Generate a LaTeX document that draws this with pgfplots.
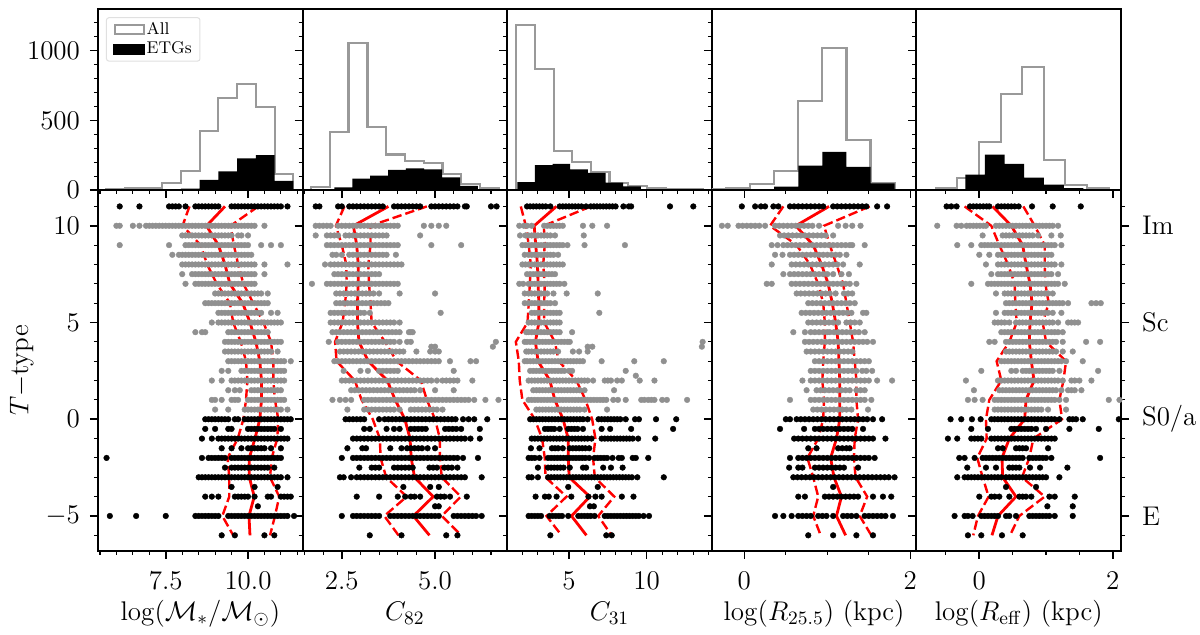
\RequirePackage{fix-cm}
\documentclass[border=0pt]{standalone}
\usepackage{pgfplots}
\usepackage{pgfplotstable}
\pgfplotsset{compat=1.18}
\definecolor{gd}{HTML}{909090}
\definecolor{gh}{HTML}{999999}
\newcommand\tfs{\fontsize{13.5}{15}\selectfont}
\pgfplotsset{
 panel/.style={scale only axis,width=102.3pt,anchor=south west,
  axis line style={line width=1pt},tick align=outside,
  major tick length=4pt,minor tick length=2pt,
  major tick style={line width=.8pt,black},minor tick style={line width=.55pt,black},
  tick label style={font=\tfs},label style={font=\tfs},
  xtick pos=bottom,ytick pos=left,
  xticklabel style={yshift=-3pt},
  xlabel style={at={(axis description cs:0.5,-0.192)},anchor=base}},
 hist/.style={panel,height=90.35pt,ymin=0,ymax=1297,ytick={0,500,1000},
  minor ytick={100,200,300,400,600,700,800,900,1100,1200},yticklabels={},xticklabels={}},
 low/.style={panel,height=180.5pt,ymin=-6.81,ymax=11.85,ytick={-5,0,5,10},
  minor ytick={-6,-4,-3,-2,-1,1,2,3,4,6,7,8,9,11},yticklabels={}},
 allh/.style={const plot,draw=gh,line width=1.1pt,fill=none,forget plot},
 etgh/.style={const plot,draw=none,fill=black,forget plot},
 gdot/.style={only marks,color=gd,mark=*,mark size=1.42pt,mark options={solid,draw=gd,fill=gd,line width=.2pt}},
 bdot/.style={only marks,color=black,mark=*,mark size=1.42pt,mark options={solid,draw=black,fill=black,line width=.2pt}},
}
\newcommand\G[2]{\addplot[gdot] table[header=false,x index=0,y expr=#1,row sep=crcr]{#2\\};}
\newcommand\B[2]{\addplot[bdot] table[header=false,x index=0,y expr=#1,row sep=crcr]{#2\\};}
\newcommand\Curves[1]{%
 \addplot[white,line width=2.6pt,dash pattern=on 4.7pt off 2pt] table[x=lo,y=T]{#1};
 \addplot[white,line width=2.6pt,dash pattern=on 4.7pt off 2pt] table[x=hi,y=T]{#1};
 \addplot[white,line width=2.9pt] table[x=med,y=T]{#1};
 \addplot[red,line width=1.2pt,dash pattern=on 4.7pt off 2pt] table[x=lo,y=T]{#1};
 \addplot[red,line width=1.2pt,dash pattern=on 4.7pt off 2pt] table[x=hi,y=T]{#1};
 \addplot[red,line width=1.4pt] table[x=med,y=T]{#1};}
\pgfplotstableread{
T med lo hi
11 9.30 8.22 10.31
10 8.74 8.01 9.47
9 9.10 8.56 9.57
8 9.30 8.76 9.70
7 9.45 9.05 9.86
6 9.84 9.45 10.16
5 10.06 9.55 10.47
4 10.24 9.78 10.70
3 10.36 9.94 10.77
2 10.41 9.98 10.77
1 10.41 9.94 10.82
0 10.36 9.86 10.92
-1 10.21 9.69 10.89
-2 10.04 9.38 10.72
-3 10.04 9.43 10.67
-4 10.19 9.43 10.95
-5 10.03 9.22 10.82
-6 10.06 9.55 10.67
}\tabA
\pgfplotstableread{
T med lo hi
11 3.75 2.57 4.78
10 2.81 2.34 3.27
9 2.90 2.50 3.27
8 2.94 2.62 3.21
7 2.94 2.63 3.23
6 2.92 2.59 3.27
5 2.92 2.52 3.30
4 2.96 2.32 3.66
3 3.21 2.36 3.97
2 3.72 2.85 4.62
1 3.93 3.03 4.78
0 4.19 3.33 5.00
-1 4.33 3.52 5.13
-2 4.36 3.54 5.13
-3 4.45 3.69 5.18
-4 4.95 4.24 5.69
-5 4.42 3.64 5.18
-6 4.85 4.02 5.70
}\tabB
\pgfplotstableread{
T med lo hi
11 4.19 1.90 6.40
10 2.76 2.22 3.38
9 2.86 2.41 3.44
8 2.97 2.54 3.34
7 3.01 2.48 3.44
6 3.06 2.41 3.40
5 3.06 2.33 3.40
4 2.84 1.58 4.09
3 3.01 1.77 4.34
2 3.77 1.83 5.48
1 4.09 2.00 6.06
0 4.62 2.80 6.49
-1 4.95 3.27 6.70
-2 4.95 3.44 6.55
-3 5.01 3.49 6.66
-4 6.34 4.84 7.91
-5 5.16 3.55 6.88
-6 6.12 4.52 7.74
}\tabC
\pgfplotstableread{
T med lo hi
11 1.02 0.47 1.51
10 0.62 0.31 0.96
9 0.83 0.63 1.03
8 0.93 0.79 1.11
7 1.01 0.89 1.19
6 1.06 0.95 1.23
5 1.10 0.97 1.27
4 1.13 0.97 1.31
3 1.14 0.95 1.33
2 1.15 0.94 1.35
1 1.15 0.96 1.35
0 1.15 0.95 1.37
-1 1.11 0.89 1.33
-2 1.04 0.76 1.32
-3 1.08 0.83 1.34
-4 1.17 0.89 1.48
-5 1.11 0.83 1.39
-6 1.22 0.92 1.53
}\tabD
\pgfplotstableread{
T med lo hi
11 0.20 -0.22 0.66
10 0.48 0.18 0.83
9 0.65 0.30 0.98
8 0.70 0.43 0.98
7 0.76 0.53 0.99
6 0.79 0.54 1.04
5 0.76 0.56 0.95
4 0.75 0.45 1.00
3 0.78 0.26 1.30
2 0.82 0.33 1.26
1 0.70 0.15 1.20
0 0.68 0.10 1.24
-1 0.45 0.11 0.81
-2 0.34 -0.03 0.75
-3 0.35 0.05 0.64
-4 0.55 0.14 0.98
-5 0.28 -0.02 0.60
-6 0.19 -0.09 0.46
}\tabE
\begin{document}
\begin{tikzpicture}
\path[use as bounding box] (0,0) rectangle (600pt,317.5pt);
% ---------- histograms
\begin{axis}[hist,at={(49pt,222.5pt)},xmin=5.44,xmax=11.66,xtick={7.5,10},
 minor xtick={5.5,6,6.5,7,8,8.5,9,9.5,10.5,11,11.5},
 yticklabels={$0$,$500$,$1000$},yticklabel style={xshift=-1.5pt},
 legend style={at={(0.039,0.956)},anchor=north west,draw=black!12,line width=.5pt,rounded corners=1.2pt,
  font=\fontsize{8.5}{10}\selectfont,inner xsep=3.5pt,inner ysep=1.5pt,row sep=1.2pt,
  nodes={inner sep=.6pt},
  /tikz/every even column/.append style={column sep=6pt}},legend cell align=left]
\addlegendimage{legend image code/.code={\draw[sharp corners,draw=gh,line width=1.1pt] (0pt,-2.4pt) rectangle (14.5pt,2.4pt);}}
\addlegendentry{All}
\addlegendimage{legend image code/.code={\fill[sharp corners,black] (-.5pt,-2.7pt) rectangle (15pt,2.7pt);}}
\addlegendentry{ETGs}
\addplot[allh] coordinates {(5.68,5)(6.25,10)(6.82,17)(7.39,50)(7.96,139)(8.53,426)(9.10,658)(9.67,761)(10.24,596)(10.81,115)(11.38,115)} \closedcycle;
\addplot[etgh] coordinates {(7.96,10)(8.53,72)(9.10,134)(9.67,227)(10.24,251)(10.81,65)(11.38,65)} \closedcycle;
\end{axis}
\begin{axis}[hist,at={(151.3pt,222.5pt)},xmin=1.449,xmax=6.934,xtick={2.5,5},
 minor xtick={1.5,2,3,3.5,4,4.5,5.5,6,6.5}]
\addplot[allh] coordinates {(1.68,24)(2.18,419)(2.68,1055)(3.19,452)(3.69,254)(4.19,206)(4.70,196)(5.20,115)(5.70,43)(6.20,12)(6.71,12)} \closedcycle;
\addplot[etgh] coordinates {(2.30,19)(2.78,81)(3.26,103)(3.74,144)(4.22,155)(4.71,148)(5.19,91)(5.67,29)(6.15,29)} \closedcycle;
\end{axis}
\begin{axis}[hist,at={(253.6pt,222.5pt)},xmin=1.023,xmax=14.19,xtick={5,10},
 minor xtick={2,3,4,6,7,8,9,11,12,13,14}]
\addplot[allh] coordinates {(1.61,1187)(2.81,871)(4.01,278)(5.21,203)(6.41,129)(7.61,53)(8.81,29)(10.01,14)(11.21,7)(12.41,7)(13.61,7)} \closedcycle;
\addplot[etgh] coordinates {(1.67,57)(2.81,179)(3.95,187)(5.08,148)(6.22,122)(7.36,53)(8.49,26)(9.63,26)} \closedcycle;
\end{axis}
\begin{axis}[hist,at={(355.9pt,222.5pt)},xmin=-0.392,xmax=2.073,xtick={0,2},
 minor xtick={0.5,1,1.5}]
\addplot[allh] coordinates {(-0.51,7)(-0.22,14)(0.07,45)(0.36,136)(0.65,636)(0.94,1019)(1.23,356)(1.52,48)(1.81,48)} \closedcycle;
\addplot[etgh] coordinates {(0.36,24)(0.65,175)(0.94,273)(1.23,165)(1.52,48)(1.81,48)} \closedcycle;
\end{axis}
\begin{axis}[hist,at={(458.2pt,222.5pt)},xmin=-0.942,xmax=2.123,xtick={0,2},
 minor xtick={-0.5,0.5,1,1.5}]
\addplot[allh] coordinates {(-0.653,12)(-0.33,84)(-0.005,347)(0.32,687)(0.643,880)(0.968,213)(1.287,36)(1.61,12)(1.935,12)} \closedcycle;
\addplot[etgh] coordinates {(-0.21,110)(0.085,254)(0.38,187)(0.673,89)(0.968,38)(1.267,14)(1.56,14)} \closedcycle;
\end{axis}
% ---------- panel 1
\begin{axis}[low,at={(49pt,42pt)},xmin=5.44,xmax=11.66,xtick={7.5,10},
 minor xtick={5.5,6,6.5,7,8,8.5,9,9.5,10.5,11,11.5},xticklabels={$7.5$,$10.0$},
 yticklabels={$-5$,$0$,$5$,$10$},yticklabel style={xshift=-1.5pt},
 ylabel={$T{-}$type},ylabel style={at={(axis description cs:-0.372,0.5)},anchor=center,rotate=0},
 xlabel={$\log(\mathcal{M}_{*}/\mathcal{M}_{\odot})$}]
\B{11}{6.1\\6.7\\7.6\\7.7\\7.8\\7.9\\8.1\\8.4\\8.5\\8.6\\8.7\\8.8\\8.9\\9\\9.1\\9.5\\9.6\\9.7\\9.8\\9.9\\10\\10.1\\10.2\\10.3\\10.4\\10.5\\10.6\\10.7\\10.8\\10.9\\11\\11.2}
\G{10}{6\\6.1\\6.5\\6.7\\6.9\\7\\7.1\\7.2\\7.3\\7.4\\7.5\\7.6\\7.7\\7.8\\7.9\\8\\8.1\\8.2\\8.3\\8.4\\8.5\\8.6\\8.7\\8.8\\8.9\\9\\9.1\\9.2\\9.3\\9.4\\9.5\\9.6\\9.7\\9.8\\9.9\\10\\10.1\\10.2\\10.5}
\G{9.5}{8\\8.1\\8.2\\8.3\\8.4\\8.5\\8.6\\8.7\\8.8\\8.9\\9\\9.1\\9.2\\9.3\\9.4\\9.5\\9.7\\9.8\\10}
\G{9}{6.1\\7.6\\8.1\\8.2\\8.3\\8.4\\8.5\\8.6\\8.7\\8.8\\8.9\\9\\9.1\\9.2\\9.3\\9.4\\9.5\\9.6\\9.7\\9.8\\9.9\\10\\10.4\\10.7\\11}
\G{8.5}{7.7\\7.9\\8\\8.1\\8.2\\8.3\\8.4\\8.5\\8.6\\8.7\\8.8\\8.9\\9\\9.1\\9.2\\9.3\\9.4\\9.5\\9.6\\9.7\\9.8\\9.9\\10\\10.1}
\G{8}{8\\8.1\\8.2\\8.3\\8.4\\8.5\\8.6\\8.7\\8.8\\8.9\\9\\9.1\\9.2\\9.3\\9.4\\9.5\\9.6\\9.7\\9.8\\9.9\\10\\10.1\\10.2\\10.5\\11.2}
\G{7.5}{8\\8.3\\8.4\\8.5\\8.6\\8.7\\8.8\\8.9\\9\\9.1\\9.2\\9.3\\9.4\\9.5\\9.6\\9.7\\9.8\\9.9\\10\\10.1\\10.2\\10.5}
\G{7}{8.1\\8.4\\8.5\\8.6\\8.7\\8.8\\8.9\\9\\9.1\\9.2\\9.3\\9.4\\9.5\\9.6\\9.7\\9.8\\9.9\\10\\10.1\\10.2}
\G{6.5}{9\\9.1\\9.2\\9.3\\9.4\\9.5\\9.6\\9.7\\9.8\\9.9\\10\\10.1\\10.2\\10.3\\10.4\\10.6}
\G{6}{8.7\\8.8\\8.9\\9\\9.1\\9.2\\9.3\\9.4\\9.5\\9.6\\9.7\\9.8\\9.9\\10\\10.1\\10.2\\10.3\\10.4\\10.5\\10.6}
\G{5.5}{9.1\\9.2\\9.3\\9.4\\9.5\\9.6\\9.7\\9.8\\9.9\\10\\10.1\\10.2\\10.3\\10.4\\10.7\\10.9}
\G{5}{8.9\\9.1\\9.2\\9.3\\9.4\\9.5\\9.6\\9.7\\9.8\\9.9\\10\\10.1\\10.2\\10.3\\10.4\\10.5\\10.6\\10.7\\10.8\\10.9\\11}
\G{4.5}{8.4\\8.6\\8.7\\9.4\\9.5\\9.6\\9.7\\9.8\\9.9\\10\\10.1\\10.2\\10.3\\10.4\\10.5\\10.6}
\G{4}{9.3\\9.4\\9.5\\9.6\\9.7\\9.8\\9.9\\10\\10.1\\10.2\\10.3\\10.4\\10.5\\10.6\\10.7\\10.8\\10.9\\11}
\G{3.5}{9.3\\9.4\\9.5\\9.6\\9.7\\9.8\\9.9\\10\\10.1\\10.2\\10.3\\10.4\\10.5\\10.6\\10.7\\10.9}
\G{3}{9.4\\9.5\\9.6\\9.7\\9.8\\9.9\\10\\10.1\\10.2\\10.3\\10.4\\10.5\\10.6\\10.7\\10.8\\10.9\\11\\11.1\\11.3}
\G{2.5}{9.2\\9.4\\9.8\\9.9\\10\\10.1\\10.2\\10.3\\10.4\\10.5\\10.6\\10.7\\10.8\\10.9\\11\\11.1}
\G{2}{8.9\\9.2\\9.5\\9.6\\9.7\\9.8\\9.9\\10\\10.1\\10.2\\10.3\\10.4\\10.5\\10.6\\10.7\\10.8\\10.9\\11\\11.1}
\G{1.5}{9.4\\9.6\\9.75\\10.1\\10.2\\10.3\\10.4\\10.5\\10.6\\10.7\\10.8\\10.9\\11}
\G{1}{8.9\\9\\9.2\\9.5\\9.6\\9.7\\10\\10.1\\10.2\\10.3\\10.4\\10.5\\10.6\\10.7\\10.8\\10.9\\11\\11.1}
\G{0.5}{9\\9.4\\9.9\\10\\10.1\\10.2\\10.3\\10.4\\10.5\\10.6\\10.7\\10.8\\10.9\\11\\11.2}
\B{0}{8.7\\8.8\\8.9\\9\\9.1\\9.2\\9.3\\9.4\\9.6\\9.7\\9.9\\10\\10.1\\10.2\\10.3\\10.4\\10.5\\10.6\\10.7\\10.8\\10.9\\11\\11.1\\11.2\\11.3}
\B{-0.5}{8.7\\9\\9.4\\9.5\\10\\10.1\\10.2\\10.3\\10.4\\10.5\\10.6\\10.7\\10.8\\11}
\B{-1}{8.6\\8.9\\9.1\\9.2\\9.3\\9.4\\9.5\\9.6\\9.7\\9.8\\9.9\\10\\10.1\\10.2\\10.3\\10.4\\10.5\\10.6\\10.7\\10.8\\10.9\\11\\11.1\\11.2}
\B{-1.5}{9.2\\9.5\\9.8\\10\\10.1\\10.2\\10.3\\10.4\\10.5\\10.7\\11}
\B{-2}{5.7\\8.6\\8.8\\8.9\\9\\9.1\\9.2\\9.3\\9.5\\9.6\\9.7\\9.8\\9.9\\10\\10.1\\10.2\\10.3\\10.4\\10.5\\10.6\\10.7\\10.8\\10.9\\11}
\B{-2.5}{9.3\\9.5\\9.6\\9.7\\9.8\\9.9\\10\\10.1\\10.2\\10.3\\10.4\\10.5\\10.6\\10.8}
\B{-3}{8.5\\8.6\\8.7\\8.8\\8.9\\9\\9.1\\9.2\\9.3\\9.4\\9.5\\9.6\\9.7\\9.8\\9.9\\10\\10.1\\10.2\\10.3\\10.4\\10.5\\10.6\\10.7\\10.8\\10.9\\11\\11.2}
\B{-3.5}{9.5\\10.2\\10.9}
\B{-4}{8.7\\8.9\\9.1\\9.6\\9.7\\9.8\\9.9\\10\\10.2\\10.6\\10.7\\11\\11.1\\11.2\\11.3}
\B{-4.5}{10.3}
\B{-5}{5.8\\6.6\\7.5\\8.4\\8.5\\8.6\\8.7\\8.8\\8.9\\9\\9.1\\9.4\\9.5\\9.6\\9.7\\9.8\\9.9\\10\\10.1\\10.2\\10.3\\10.4\\10.5\\10.6\\10.7\\10.8\\10.9\\11\\11.1\\11.2\\11.4}
\B{-6}{9.2\\9.6\\10.5\\10.8}
\Curves{\tabA}
\end{axis}
% ---------- panel 2
\begin{axis}[low,at={(151.3pt,42pt)},xmin=1.449,xmax=6.934,xtick={2.5,5},
 minor xtick={1.5,2,3,3.5,4,4.5,5.5,6,6.5},xticklabels={$2.5$,$5.0$},xlabel={$C_{82}$}]
\B{11}{1.8\\1.9\\2.4\\2.5\\2.7\\2.8\\2.9\\3\\3.1\\3.2\\3.3\\3.4\\3.5\\3.6\\3.9\\4\\4.1\\4.2\\4.3\\4.4\\4.5\\4.6\\4.9\\5\\5.1\\5.2\\5.3\\5.4\\5.5\\5.6\\5.8\\5.85\\6.5\\6.65}
\G{10}{1.8\\1.9\\2\\2.1\\2.2\\2.4\\2.5\\2.6\\2.7\\2.8\\2.9\\3\\3.1\\3.2\\3.3\\3.4\\3.5\\3.6\\3.7\\3.8\\3.9\\4\\4.7\\4.9\\5.1\\5.3}
\G{9.5}{1.8\\2.1\\2.2\\2.3\\2.4\\2.6\\2.7\\2.8\\2.9\\3\\3.1\\3.2\\3.3\\3.4\\3.5\\3.6\\3.7\\4.6}
\G{9}{2.1\\2.2\\2.3\\2.4\\2.5\\2.6\\2.7\\2.8\\2.9\\3\\3.1\\3.2\\3.3\\3.4\\3.5\\3.6\\3.7\\3.8\\3.9\\4\\4.9\\5.7}
\G{8.5}{2.25\\2.35\\2.5\\2.7\\2.8\\2.9\\3\\3.1\\3.2\\3.3\\3.4\\3.5\\3.6\\3.7\\3.95}
\G{8}{2.05\\2.2\\2.3\\2.4\\2.5\\2.6\\2.7\\2.8\\2.9\\3\\3.1\\3.2\\3.3\\3.4\\3.5\\3.6\\3.7\\3.8\\3.9\\4\\4.1}
\G{7.5}{2.3\\2.4\\2.5\\2.6\\2.7\\2.8\\2.9\\3\\3.1\\3.2\\3.3\\3.4\\3.5}
\G{7}{1.7\\2.1\\2.2\\2.3\\2.4\\2.5\\2.6\\2.7\\2.8\\2.9\\3\\3.1\\3.2\\3.3\\3.4\\3.5\\3.6\\3.7\\3.8\\3.9\\4}
\G{6.5}{2.35\\2.45\\2.55\\2.65\\2.75\\2.85\\2.95\\3.05\\3.15\\3.25\\3.35\\3.5\\4.05\\5}
\G{6}{2.35\\2.45\\2.55\\2.65\\2.75\\2.85\\2.95\\3.05\\3.15\\3.25\\3.35\\3.45\\3.55\\3.65\\3.75}
\G{5.5}{2.2\\2.3\\2.4\\2.5\\2.6\\2.7\\2.8\\2.9\\3\\3.1\\3.25\\5.15}
\G{5}{2.2\\2.3\\2.4\\2.5\\2.6\\2.7\\2.8\\2.9\\3\\3.1\\3.2\\3.3\\3.4\\3.5\\3.6\\3.7\\3.8\\3.9\\4.05}
\G{4.5}{2.25\\2.35\\2.45\\2.55\\2.65\\2.75\\2.85\\2.95\\3.05\\3.15\\3.25\\3.35\\3.45\\3.55\\3.65\\3.75\\3.85\\3.95\\4.05\\4.3\\4.4\\4.35}
\G{4}{2.15\\2.4\\2.5\\2.6\\2.7\\2.8\\2.9\\3\\3.1\\3.2\\3.3\\3.4\\3.5\\3.6\\3.7\\3.8\\3.9\\4.05\\4.25\\4.35\\6.63}
\G{3.75}{4.9\\5\\6.55}
\G{3.5}{2.45\\2.55\\2.65\\2.75\\2.85\\2.95\\3.05\\3.15\\3.25\\3.35\\3.45\\3.55\\3.65\\3.75\\3.85\\3.95\\4.05\\4.15\\4.5\\4.87\\5\\5.1}
\G{3}{2.3\\2.4\\2.5\\2.6\\2.7\\2.8\\2.9\\3\\3.1\\3.2\\3.3\\3.4\\3.5\\3.6\\3.7\\3.8\\3.9\\4\\4.1\\4.2\\4.3\\4.4\\4.5\\4.6\\4.7\\4.8\\4.9\\5\\5.1\\5.4\\5.95\\6.1}
\G{2.5}{2.55\\3\\3.2\\3.5\\3.6\\3.7\\3.8\\3.9\\4\\5.5}
\G{2}{2.5\\2.6\\2.7\\2.8\\2.9\\3\\3.1\\3.2\\3.3\\3.4\\3.5\\3.6\\3.7\\3.8\\3.9\\4\\4.1\\4.2\\4.3\\4.4\\4.5\\4.6\\4.7\\4.8\\4.9\\5.05\\5.2\\5.3\\5.4\\5.5\\5.6\\6}
\G{1.5}{2.75\\2.85\\2.95\\3.05\\3.15\\3.25\\3.35\\3.45\\3.55\\3.65\\3.75\\3.85\\3.95\\4.05\\4.15\\4.25\\4.35\\4.45\\4.6\\5\\5.5}
\G{1}{2.25\\2.45\\2.6\\2.75\\3.1\\3.2\\3.3\\3.4\\3.5\\3.6\\3.7\\3.8\\3.9\\4\\4.1\\4.2\\4.3\\4.4\\4.5\\4.6\\4.7\\4.8\\4.9\\5\\5.1\\5.2\\5.3\\5.4\\5.5\\5.6\\5.7\\5.8\\5.9\\6.05\\6.35\\6.7}
\G{0.5}{2.65\\3.1\\3.2\\3.3\\3.4\\3.5\\3.6\\3.7\\3.8\\3.9\\4.05\\4.35\\4.45\\4.55\\4.65\\4.75\\4.85\\4.95\\5.05\\5.2}
\B{0}{2.6\\2.7\\2.8\\2.9\\3\\3.1\\3.5\\3.65\\3.75\\3.85\\3.95\\4.05\\4.15\\4.25\\4.35\\4.45\\4.55\\4.65\\4.75\\4.85\\4.95\\5.05\\5.15\\5.25\\5.35\\5.45\\5.55\\5.75\\5.9\\6.05\\6.4}
\B{-0.5}{3.1\\3.25\\3.7\\3.9\\4.05\\4.35\\4.45\\4.55\\4.65\\4.75\\5.27\\5.37\\5.47\\5.57\\5.7\\6.2}
\B{-1}{2.8\\2.9\\3\\3.1\\3.2\\3.3\\3.4\\3.5\\3.6\\3.7\\3.8\\3.9\\4\\4.1\\4.2\\4.3\\4.4\\4.5\\4.6\\4.7\\4.8\\4.9\\5\\5.1\\5.2\\5.3\\5.4\\5.5\\5.6\\5.7\\5.8\\5.95\\6.2}
\B{-1.5}{2.65\\3.05\\3.15\\3.8\\4.1\\4.25\\4.35\\4.45\\4.55\\4.65\\4.8\\5}
\B{-2}{2.5\\2.8\\2.9\\3\\3.1\\3.2\\3.3\\3.4\\3.5\\3.6\\3.7\\3.8\\3.9\\4\\4.1\\4.2\\4.3\\4.4\\4.5\\4.6\\4.7\\4.8\\4.9\\5\\5.1\\5.2\\5.3\\5.4\\5.5\\5.6\\5.75\\6.15}
\B{-2.5}{2.97\\3.3\\3.4\\3.5\\3.9\\4\\4.1\\4.2\\4.3\\4.4\\4.85\\4.95\\5.05\\5.25\\5.35\\5.45\\5.6}
\B{-3}{2.45\\2.55\\2.75\\2.9\\3\\3.1\\3.2\\3.3\\3.4\\3.5\\3.6\\3.7\\3.8\\3.9\\4\\4.1\\4.2\\4.3\\4.4\\4.5\\4.6\\4.7\\4.8\\4.9\\5\\5.1\\5.2\\5.3\\5.4\\5.5\\5.6\\5.7\\5.8\\6.25}
\B{-3.5}{4.15\\4.87\\5.1}
\B{-4}{2.9\\3.5\\4\\4.2\\4.35\\4.45\\4.6\\5.05\\5.15\\5.25\\5.4\\5.85}
\B{-4.5}{5\\5.1}
\B{-5}{2.5\\2.8\\2.9\\3\\3.1\\3.2\\3.3\\3.4\\3.5\\3.8\\3.9\\4\\4.1\\4.2\\4.3\\4.4\\4.5\\4.6\\4.7\\4.8\\4.9\\5\\5.1\\5.5\\5.6\\5.7\\5.8\\5.9\\6\\6.1\\6.25}
\B{-6}{3.25\\4.1\\5.3\\5.6}
\Curves{\tabB}
\end{axis}
% ---------- panel 3
\begin{axis}[low,at={(253.6pt,42pt)},xmin=1.023,xmax=14.19,xtick={5,10},
 minor xtick={2,3,4,6,7,8,9,11,12,13,14},xticklabels={$5$,$10$},xlabel={$C_{31}$}]
\B{11}{2.3\\2.5\\2.7\\2.9\\3.1\\3.3\\3.5\\3.8\\4.4\\4.6\\4.8\\5\\5.2\\5.4\\5.6\\5.8\\6.1\\6.4\\6.6\\6.8\\7\\7.2\\7.4\\7.6\\7.8\\8\\8.5\\8.85\\9\\11.5\\13}
\G{10}{1.8\\2.1\\2.3\\2.6\\3.4\\3.6\\3.8\\4\\4.2\\4.4\\4.6\\5.9\\6.5\\7.45}
\G{9.5}{1.85\\2.2\\2.4\\2.6\\2.8\\3\\3.2\\3.4\\3.6\\3.8\\4.1\\5.95}
\G{9}{2\\2.2\\2.4\\2.6\\2.8\\3\\3.2\\3.4\\3.6\\3.8\\4\\4.2\\4.4\\4.6\\4.9\\6\\8.6}
\G{8.5}{2.15\\2.4\\2.6\\2.8\\3\\3.2\\3.4\\3.6\\3.8\\4\\4.3}
\G{8}{2\\2.2\\2.4\\2.6\\2.8\\3\\3.2\\3.4\\3.6\\3.8\\4\\4.2\\4.4\\4.6}
\G{7.5}{2.3\\2.5\\2.7\\2.9\\3.1\\3.3\\3.5\\3.7\\3.9\\4.1}
\G{7}{1.8\\2.05\\2.4\\2.6\\2.8\\3\\3.2\\3.4\\3.6\\3.8\\4\\4.2\\4.4\\4.7}
\G{6.5}{2.15\\2.4\\2.6\\2.8\\3\\3.2\\3.4\\3.6\\4\\4.85\\6.85}
\G{6}{2.15\\2.4\\2.6\\2.8\\3\\3.2\\3.4\\3.6\\3.8\\4.1}
\G{5.5}{2.6\\2.8\\3\\3.2\\3.4\\3.6\\3.8\\4\\4.2\\4.4\\6.95}
\G{5}{2.4\\2.6\\2.8\\3\\3.2\\3.4\\3.6\\3.8\\4\\4.2\\4.4}
\G{4.5}{2.25\\2.4\\2.6\\2.8\\3\\3.2\\3.4\\3.6\\3.8\\4\\4.2\\4.4\\5.2}
\G{4}{2.15\\2.3\\2.5\\2.7\\2.9\\3.1\\3.3\\3.5\\3.7\\3.9\\4.1\\4.3\\4.5\\4.7\\4.9\\5.05\\13.6}
\G{3.75}{6.5\\6.2\\13.55}
\G{3.5}{2.25\\2.4\\2.6\\2.8\\3\\3.2\\3.4\\3.6\\3.8\\4\\4.3\\5.25\\5.65\\6.2}
\G{3}{2.15\\2.3\\2.5\\2.7\\2.9\\3.1\\3.3\\3.5\\3.7\\3.9\\4.1\\4.3\\4.5\\4.7\\4.9\\5.1\\5.3\\5.5\\5.7\\5.9\\7.1\\9.2\\11.1}
\G{2.5}{2.5\\2.7\\2.9\\3.1\\3.3\\3.5\\3.7\\3.9\\4.1\\4.3\\4.5\\4.7\\5\\5.2\\8.65}
\G{2.25}{9.3}
\G{2}{2.4\\2.6\\2.8\\3\\3.2\\3.4\\3.6\\3.8\\4\\4.2\\4.4\\4.6\\4.8\\5\\5.2\\5.4\\5.6\\5.8\\6\\6.2\\6.55\\7.3\\7.5\\7.7\\8.1\\8.4\\9.55\\10.5}
\G{1.5}{2.7\\2.9\\3.1\\3.3\\3.5\\3.7\\3.9\\4.1\\4.3\\4.5\\4.7\\4.9\\5.1\\5.3\\5.5\\5.7\\6\\7.9}
\G{1}{2.4\\2.6\\2.8\\3\\3.2\\3.4\\3.6\\3.8\\4\\4.2\\4.4\\4.6\\4.8\\5\\5.2\\5.4\\5.6\\5.8\\6\\6.2\\6.4\\6.6\\6.8\\7\\7.2\\7.4\\7.85\\8.15\\8.65\\9.65\\9.85\\10.1\\10.3\\10.5\\11\\11.3\\12.6}
\G{0.5}{2.9\\3.1\\3.3\\3.5\\3.7\\3.9\\4.1\\4.3\\4.5\\4.7\\4.9\\5.1\\5.3\\5.5\\5.7\\6\\7.45}
\B{0}{2.5\\2.7\\2.9\\3.1\\3.3\\3.5\\3.7\\3.9\\4.1\\4.3\\4.5\\4.7\\4.9\\5.1\\5.3\\5.5\\5.7\\5.9\\6.2\\6.9\\7.1\\7.3\\7.5\\7.7\\7.9\\8.1\\8.3\\8.65\\9.25\\9.5\\10.6\\11.9}
\B{-0.5}{3.45\\3.65\\3.85\\4.05\\4.4\\4.95\\5.15\\5.35\\5.55\\5.9\\7.1\\7.65\\9\\11.7}
\B{-1}{2.6\\2.8\\3\\3.2\\3.4\\3.6\\3.8\\4\\4.2\\4.4\\4.6\\4.8\\5\\5.2\\5.4\\5.6\\5.8\\6\\6.2\\6.45\\7.1\\7.3\\7.5\\7.7\\7.9\\8.1\\8.3\\8.5\\8.7\\8.9\\9.1\\9.45\\10.55}
\B{-1.5}{2.55\\3.1\\3.9\\4.1\\4.3\\4.6\\5.05\\5.25\\5.45\\5.65\\5.85\\6.05\\6.3}
\B{-2}{2.4\\2.6\\2.8\\3.1\\3.65\\3.85\\4.05\\4.25\\4.45\\4.65\\4.85\\5.05\\5.25\\5.45\\5.65\\5.85\\6.05\\6.3\\6.65\\6.85\\7.05\\7.25\\7.45\\7.8\\8.2\\8.4\\9.1\\9.3\\10.1}
\B{-2.5}{3\\3.65\\3.85\\4.05\\4.25\\4.45\\4.65\\5.05\\5.9\\6.1\\7.2\\7.7\\8.45}
\B{-3}{2.4\\2.6\\3\\3.65\\3.85\\4.05\\4.25\\4.45\\4.65\\4.85\\5.05\\5.25\\5.45\\5.65\\5.85\\6.05\\6.25\\6.45\\6.65\\6.85\\7.05\\7.25\\7.45\\7.65\\7.85\\8.05\\8.25\\8.45\\8.65\\8.85\\9.05\\9.4\\11.1}
\B{-3.5}{4.95\\6.85}
\B{-4}{2.85\\3.45\\3.7\\4.2\\5.15\\6.25\\6.7\\7.1\\8.4\\9.15}
\B{-4.5}{6.35\\6.6}
\B{-5}{2.4\\2.6\\2.8\\3\\3.2\\3.75\\3.95\\4.15\\4.35\\4.55\\4.95\\5.6\\5.8\\6\\6.2\\6.4\\6.65\\7.3\\7.5\\7.7\\7.9\\8.1\\8.3\\8.5\\8.7\\8.9\\9.1\\9.3\\9.5\\9.8\\10.15}
\B{-6}{3.8\\7.4\\7.75}
\Curves{\tabC}
\end{axis}
% ---------- panel 4
\begin{axis}[low,at={(355.9pt,42pt)},xmin=-0.392,xmax=2.073,xtick={0,2},
 minor xtick={0.5,1,1.5},xticklabels={$0$,$2$},xlabel={$\log(R_{25.5})$ (kpc)}]
\B{11}{-.03\\.13\\.2\\.25\\.35\\.41\\.55\\.6\\.65\\.7\\.75\\.8\\.85\\.9\\.95\\1.07\\1.12\\1.17\\1.22\\1.27\\1.32\\1.37\\1.42\\1.47\\1.6\\1.72}
\G{10}{-.27\\-.2\\-.07\\-.02\\.03\\.08\\.13\\.18\\.25\\.37\\.42\\.47\\.52\\.57\\.62\\.67\\.72\\.77\\.82\\.9\\1.13\\1.22\\1.3\\1.4}
\G{9.5}{.43\\.48\\.53\\.58\\.63\\.68\\.73\\.78\\.83\\.88\\.93\\.98\\1.07}
\G{9}{.33\\.4\\.47\\.52\\.57\\.62\\.67\\.72\\.77\\.82\\.87\\.92\\.97\\1.02\\1.07\\1.12\\1.17\\1.22\\1.27\\1.3\\1.45}
\G{8.5}{.37\\.46\\.55\\.6\\.65\\.7\\.75\\.8\\.85\\.9\\.95\\1\\1.05\\1.1\\1.15\\1.23}
\G{8}{.33\\.57\\.62\\.67\\.72\\.77\\.82\\.87\\.92\\.97\\1.02\\1.07\\1.12\\1.19\\1.39}
\G{7.5}{.47\\.55\\.6\\.65\\.7\\.75\\.8\\.85\\.9\\.95\\1\\1.07\\1.17\\1.26}
\G{7}{.27\\.33\\.57\\.62\\.67\\.72\\.77\\.82\\.87\\.92\\.97\\1.02\\1.07\\1.12\\1.17\\1.22\\1.27\\1.35}
\G{6.5}{.63\\.68\\.73\\.78\\.83\\.88\\.93\\.98\\1.03\\1.1\\1.2\\1.25\\1.3}
\G{6}{.77\\.82\\.87\\.92\\.97\\1.02\\1.07\\1.12\\1.17\\1.22\\1.27\\1.33}
\G{5.5}{.69\\.74\\.79\\.84\\.89\\.94\\.99\\1.04\\1.09\\1.14\\1.19\\1.24\\1.29\\1.43\\1.47}
\G{5}{.77\\.82\\.87\\.92\\.97\\1.02\\1.07\\1.13\\1.23\\1.28\\1.33\\1.39}
\G{4.5}{.59\\.73\\.8\\.85\\.9\\.95\\1\\1.03\\1.08\\1.13\\1.18\\1.23\\1.28\\1.33\\1.38\\1.45}
\G{4}{.73\\.78\\.83\\.88\\.93\\.98\\1.03\\1.08\\1.13\\1.18\\1.23\\1.28\\1.33\\1.38\\1.43\\1.48\\1.55}
\G{3.5}{.75\\.8\\.85\\.9\\.95\\1\\1.05\\1.1\\1.15\\1.2\\1.25\\1.3}
\G{3}{.85\\.9\\.95\\1\\1.05\\1.1\\1.15\\1.2\\1.25\\1.3\\1.35\\1.4\\1.45\\1.5}
\G{2.5}{.8\\.85\\.9\\.95\\1\\1.05\\1.1\\1.15\\1.2\\1.25\\1.3\\1.35\\1.42\\1.47\\1.54}
\G{2}{.7\\.8\\.85\\.9\\.95\\1\\1.05\\1.1\\1.15\\1.2\\1.25\\1.3\\1.35\\1.4\\1.45\\1.5\\1.6\\1.78}
\G{1.5}{.75\\.87\\.92\\.97\\1.02\\1.07\\1.12\\1.17\\1.22\\1.27\\1.35\\1.4\\1.45}
\G{1}{.55\\.8\\.85\\.9\\.95\\1\\1.05\\1.1\\1.15\\1.2\\1.25\\1.3\\1.35\\1.4\\1.45\\1.53}
\G{0.5}{.83\\.88\\.93\\.98\\1.03\\1.08\\1.13\\1.18\\1.23\\1.29\\1.49}
\B{0}{.5\\.55\\.63\\.68\\.73\\.78\\.83\\.88\\.93\\.98\\1.03\\1.08\\1.13\\1.18\\1.23\\1.28\\1.33\\1.38\\1.43\\1.48\\1.55\\1.66}
\B{-0.5}{.43\\.72\\.85\\.9\\.95\\1\\1.05\\1.1\\1.15\\1.2\\1.25\\1.3\\1.43}
\B{-1}{.6\\.65\\.7\\.75\\.8\\.85\\.9\\.95\\1\\1.05\\1.1\\1.15\\1.2\\1.25\\1.3\\1.35\\1.4\\1.45\\1.5\\1.55\\1.7}
\B{-1.5}{.77\\.87\\1.13\\1.18\\1.23\\1.27}
\B{-2}{.55\\.65\\.7\\.75\\.8\\.85\\.9\\.95\\1\\1.05\\1.1\\1.15\\1.2\\1.25\\1.3\\1.35\\1.4\\1.45\\1.5\\1.57}
\B{-2.5}{.54\\.65\\.7\\.85\\.9\\.95\\1\\1.05\\1.1\\1.15\\1.2\\1.37}
\B{-3}{.59\\.64\\.69\\.74\\.79\\.84\\.89\\.94\\.99\\1.04\\1.09\\1.14\\1.19\\1.24\\1.29\\1.34\\1.39\\1.44\\1.49\\1.54\\1.59\\1.64\\1.69\\1.74\\1.81}
\B{-3.5}{1.07}
\B{-4}{.65\\.73\\.97\\1.02\\1.07\\1.12\\1.17\\1.22\\1.27\\1.32\\1.37\\1.55\\1.67\\1.77}
\B{-5}{.37\\.47\\.57\\.65\\.7\\.75\\.8\\.89\\.94\\.99\\1.07\\1.19\\1.24\\1.29\\1.35\\1.45\\1.5\\1.55\\1.6\\1.65\\1.7\\1.79}
\B{-6}{.77\\1.07\\1.35\\1.55}
\Curves{\tabD}
\end{axis}
% ---------- panel 5
\begin{axis}[low,at={(458.2pt,42pt)},xmin=-0.942,xmax=2.123,xtick={0,2},
 minor xtick={-0.5,0.5,1,1.5},xticklabels={$0$,$2$},xlabel={$\log(R_{\rm eff})$ (kpc)},
 ytick pos=both,yticklabel pos=right,yticklabels={E,S0/a,Sc,Im},
 yticklabel style={xshift=3pt}]
\B{11}{-.49\\-.42\\-.34\\-.14\\-.09\\-.04\\.01\\.06\\.11\\.15\\.28\\.33\\.38\\.43\\.48\\.53\\.59\\.79\\1.1\\1.52}
\G{10}{-.63\\-.34\\-.27\\-.19\\-.14\\-.09\\-.04\\.01\\.06\\.1\\.25\\.3\\.35\\.4\\.45\\.5\\.55\\.6\\.65\\.7\\.75\\.8\\.85\\.9\\.95\\1\\1.05\\1.1\\1.18}
\G{9.5}{.05\\.35\\.4\\.45\\.5\\.55\\.6\\.65\\.7\\.75\\.8\\.88\\1.08\\1.22}
\G{9}{-.33\\-.12\\.03\\.08\\.13\\.18\\.23\\.28\\.33\\.38\\.43\\.48\\.53\\.58\\.63\\.68\\.73\\.78\\.83\\.88\\.93\\.98\\1.03\\1.08\\1.13\\1.23}
\G{8.5}{0\\.15\\.28\\.33\\.38\\.43\\.48\\.53\\.58\\.63\\.68\\.73\\.78\\.83\\.88\\.93\\.98\\1.03\\1.08}
\G{8}{.1\\.28\\.33\\.38\\.43\\.48\\.53\\.58\\.63\\.68\\.73\\.78\\.83\\.88\\.93\\.98\\1.03\\1.08\\1.13\\1.23}
\G{7.5}{.18\\.28\\.33\\.38\\.43\\.48\\.53\\.58\\.63\\.68\\.73\\.78\\.83\\.88\\.93\\.98\\1.03\\1.08\\1.18}
\G{7}{-.12\\.13\\.18\\.23\\.28\\.33\\.38\\.43\\.48\\.53\\.58\\.63\\.68\\.73\\.78\\.83\\.88\\.93\\.98\\1.03\\1.08\\1.13\\1.18\\1.28}
\G{6.5}{.25\\.38\\.43\\.48\\.53\\.58\\.63\\.68\\.73\\.78\\.83\\.88\\.93\\.98\\1.03\\1.1}
\G{6}{.4\\.45\\.5\\.55\\.6\\.65\\.7\\.75\\.8\\.85\\.9\\.95\\1\\1.05\\1.1\\1.15\\1.2\\1.25\\1.33\\1.68\\1.75\\1.82}
\G{5.5}{.25\\.38\\.43\\.48\\.53\\.58\\.63\\.68\\.73\\.78\\.83\\.88\\.93\\.98\\1.03\\1.1\\1.23}
\G{5}{.23\\.28\\.33\\.38\\.45\\.55\\.6\\.65\\.7\\.75\\.8\\.85\\.9\\.95\\1\\1.05\\1.1\\1.18\\1.33\\1.38\\1.43\\1.48}
\G{4.5}{.33\\.38\\.43\\.48\\.53\\.58\\.63\\.68\\.73\\.78\\.83\\.88\\.93\\.98\\1.03\\1.08\\1.13\\1.18\\1.25}
\G{4}{.15\\.23\\.4\\.45\\.5\\.55\\.6\\.65\\.7\\.75\\.8\\.85\\.9\\.95\\1\\1.05\\1.1\\1.15\\1.25\\1.6\\1.81}
\G{3.5}{.4\\.45\\.5\\.55\\.6\\.65\\.7\\.75\\.8\\.85\\.9\\.95\\1\\1.05\\1.1\\1.15\\1.25\\1.4}
\G{3}{.33\\.38\\.43\\.48\\.53\\.58\\.63\\.68\\.73\\.78\\.83\\.88\\.93\\.98\\1.03\\1.08\\1.13\\1.18\\1.23\\1.3\\1.55}
\G{2.5}{.03\\.48\\.55\\.65\\.7\\.75\\.8\\.85\\.9\\.95\\1\\1.05\\1.1\\1.2\\1.78}
\G{2}{-.2\\.28\\.33\\.38\\.43\\.48\\.53\\.58\\.63\\.68\\.73\\.78\\.83\\.88\\.93\\.98\\1.03\\1.08\\1.13\\1.18\\1.25\\1.38\\1.43\\1.5\\1.68}
\G{1.5}{-.08\\.3\\.35\\.4\\.45\\.5\\.55\\.6\\.65\\.7\\.75\\.8\\.85\\.9\\.95\\1\\1.05\\1.1\\1.15\\1.23\\1.33\\1.38\\1.43\\1.53}
\G{1}{-.17\\-.07\\.05\\.23\\.28\\.33\\.38\\.43\\.48\\.53\\.58\\.63\\.68\\.73\\.78\\.83\\.88\\.93\\.98\\1.03\\1.08\\1.13\\1.2\\1.3\\1.94\\2.1}
\G{0.5}{.23\\.28\\.33\\.38\\.43\\.48\\.53\\.58\\.63\\.68\\.73\\.78\\.83\\.88\\.93\\1.03\\1.3}
\B{0}{-.43\\-.27\\-.11\\.02\\.18\\.23\\.28\\.33\\.38\\.43\\.48\\.53\\.58\\.63\\.68\\.73\\.78\\.83\\.88\\.93\\.98\\1.03\\1.08\\1.13\\1.2\\1.35\\1.4\\1.45\\1.55\\2.09}
\B{-0.5}{-.12\\.13\\.48\\.53\\.58\\.63\\.68\\.73\\.78\\.85\\1\\1.35\\1.79}
\B{-1}{-.47\\-.33\\-.12\\-.07\\-.02\\.03\\.18\\.23\\.28\\.33\\.38\\.43\\.48\\.53\\.58\\.63\\.68\\.73\\.78\\.83\\.88\\.93\\.98\\1.03\\1.08\\1.13}
\B{-1.5}{.28\\.35\\.55\\.6\\.65\\.7\\1.03}
\B{-2}{-.3\\-.22\\-.07\\.05\\.1\\.15\\.2\\.25\\.3\\.35\\.4\\.45\\.5\\.55\\.6\\.65\\.75\\.8\\.85\\.9\\.95\\1\\1.08\\1.81}
\B{-2.5}{-.18\\.1\\.25\\.45\\.5\\.55\\.6\\.76\\.91\\1.32}
\B{-3}{-.33\\-.22\\-.17\\-.12\\-.07\\-.02\\.03\\.08\\.13\\.18\\.23\\.28\\.33\\.4\\.45\\.5\\.55\\.6\\.65\\.7\\.75\\.8\\.85\\.9\\.95\\1\\1.2}
\B{-3.5}{.4\\.85}
\B{-4}{0\\.18\\.23\\.3\\.45\\.6\\.65\\.7\\.78\\1.05\\1.13\\1.43}
\B{-4.5}{1.02\\1.4}
\B{-5}{-.37\\-.22\\-.17\\-.1\\.03\\.08\\.13\\.18\\.23\\.28\\.4\\.45\\.55\\.75\\.8\\.85\\.9\\.95\\1\\1.05\\1.13\\1.4}
\B{-6}{-.17\\.03\\.34\\.65}
\Curves{\tabE}
\end{axis}
\end{tikzpicture}
\end{document}
